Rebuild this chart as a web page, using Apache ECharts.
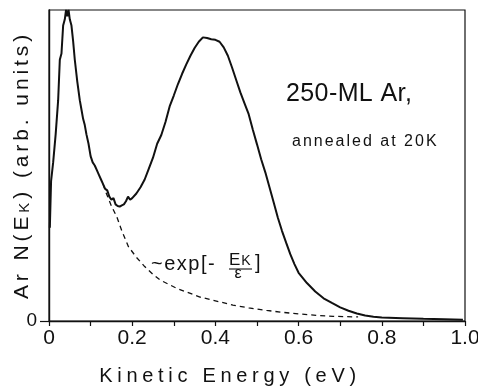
<!DOCTYPE html>
<html><head><meta charset="utf-8">
<script src="https://cdn.jsdelivr.net/npm/echarts@6/dist/echarts.min.js"></script>
<style>html,body{margin:0;padding:0;background:#fff}#c{width:478px;height:389px}</style>
</head><body><div id="c"></div>
<script>
// letter spacing helper: a family token "lsNN" means NN/10 px of letter spacing
(function(){
  var P = CanvasRenderingContext2D.prototype;
  var d = Object.getOwnPropertyDescriptor(P, 'font');
  if (d && d.set && ('letterSpacing' in P)) {
    Object.defineProperty(P, 'font', {
      configurable: true, enumerable: d.enumerable,
      get: function(){ return d.get.call(this); },
      set: function(v){ d.set.call(this, v); var m = /\bls(\d+)\b/.exec(v); this.letterSpacing = (m ? (+m[1] / 10) : 0) + 'px'; }
    });
  }
})();

const energy = [0.002,0.005,0.010,0.016,0.022,0.026,0.030,0.034,0.038,0.041,0.044,0.047,0.050,0.054,0.058,0.062,0.068,0.074,0.078,0.082,0.086,0.090,0.095,0.100,0.105,0.110,0.115,0.120,0.125,0.130,0.135,0.140,0.145,0.150,0.155,0.160,0.165,0.170,0.175,0.180,0.185,0.190,0.195,0.200,0.210,0.220,0.230,0.240,0.250,0.260,0.270,0.280,0.290,0.300,0.310,0.320,0.330,0.340,0.350,0.360,0.370,0.380,0.390,0.400,0.410,0.420,0.430,0.440,0.450,0.460,0.470,0.480,0.490,0.500,0.510,0.520,0.530,0.540,0.550,0.560,0.570,0.580,0.590,0.600,0.620,0.640,0.660,0.680,0.700,0.720,0.740,0.760,0.780,0.800,0.850,0.900,0.950,0.995];
const intensity = [0.30,0.45,0.51,0.60,0.71,0.84,0.86,0.95,0.97,1.00,0.98,1.00,0.97,0.95,0.90,0.84,0.77,0.71,0.68,0.65,0.63,0.60,0.57,0.53,0.51,0.50,0.485,0.47,0.455,0.44,0.425,0.42,0.40,0.39,0.395,0.375,0.37,0.368,0.372,0.375,0.385,0.40,0.39,0.395,0.41,0.43,0.455,0.49,0.525,0.57,0.598,0.64,0.69,0.725,0.762,0.795,0.825,0.853,0.878,0.898,0.912,0.91,0.906,0.904,0.898,0.88,0.853,0.815,0.775,0.735,0.70,0.665,0.615,0.568,0.52,0.478,0.43,0.382,0.333,0.29,0.252,0.215,0.183,0.155,0.122,0.095,0.073,0.058,0.044,0.033,0.024,0.018,0.014,0.011,0.009,0.007,0.006,0.004];
const expEnergy = [0.130,0.135,0.150,0.163,0.175,0.191,0.210,0.230,0.250,0.267,0.307,0.363,0.400,0.442,0.480,0.523,0.560,0.603,0.643,0.683,0.743];
const expIntensity = [0.44,0.42,0.37,0.335,0.29,0.239,0.205,0.175,0.15,0.132,0.105,0.077,0.065,0.051,0.042,0.034,0.028,0.0225,0.018,0.015,0.013];
const xTickValues = [0, 0.2, 0.4, 0.6, 0.8, 1.0];
const xTickLabels = ['0', '0.2', '0.4', '0.6', '0.8', '1.0'];
const yTickValues = [0];
const yTickLabels = ['0'];

const INK = '#111';
const LIB = '"Liberation Sans"';

const chart = echarts.init(document.getElementById('c'), null, {renderer: 'canvas'});
chart.setOption({
  animation: false,
  backgroundColor: '#fff',
  grid: {left: 49, right: 13, top: 10, bottom: 68, show: true, borderColor: INK, borderWidth: 1.2, containLabel: false, outerBoundsMode: 'none'},
  xAxis: {
    type: 'value', min: 0, max: 1, interval: 0.1,
    splitLine: {show: false},
    axisLine: {lineStyle: {color: INK, width: 1.4}},
    axisTick: {length: 5, lineStyle: {color: INK, width: 1.2}},
    axisLabel: {
      margin: 7, color: INK, fontFamily: LIB, fontSize: 21,
      formatter: function (v) {
        const i = xTickValues.findIndex(t => Math.abs(t - v) < 1e-6);
        return i >= 0 ? xTickLabels[i] : '';
      }
    },
    name: 'Kinetic Energy (eV)', nameLocation: 'middle', nameGap: 43,
    nameTextStyle: {color: INK, fontFamily: LIB + ', ls47', fontSize: 20, padding: [0, 54, 0, 0]}
  },
  yAxis: {
    type: 'value', min: 0, max: 1, interval: 1,
    splitLine: {show: false},
    axisLine: {show: true, lineStyle: {color: INK, width: 1.4}},
    axisTick: {show: true, length: 9, customValues: yTickValues, lineStyle: {color: INK, width: 1.2}},
    axisLabel: {margin: 12, color: INK, fontFamily: LIB, fontSize: 19, customValues: yTickValues,
      formatter: function (v) { const i = yTickValues.findIndex(t => Math.abs(t - v) < 1e-6); return i >= 0 ? yTickLabels[i] : ''; }}
  },
  series: [
    {type: 'line', data: energy.map((x, i) => [x, intensity[i]]), showSymbol: false, symbol: 'none',
      lineStyle: {color: INK, width: 2}, clip: true, z: 3},
    {type: 'line', data: expEnergy.map((x, i) => [x, expIntensity[i]]), showSymbol: false, symbol: 'none',
      lineStyle: {color: INK, width: 1.3, type: [5, 4]}, clip: true, z: 2}
  ],
  graphic: [
    {type: 'text', x: 22, y: 165, rotation: Math.PI / 2,
      style: {text: 'Ar N(E{s|K}) (arb. units)', fill: INK, font: '21px ' + LIB + ', ls39', align: 'center', verticalAlign: 'middle', textAlign: 'center', textVerticalAlign: 'middle',
        rich: {s: {font: '15px ' + LIB + ', ls39', fill: INK, padding: [5, 0, 0, 0]}}}},
    {type: 'text', x: 286, y: 94, style: {text: '250-ML Ar,', fill: INK, font: '25px ' + LIB + ', ls4', align: 'left', verticalAlign: 'middle', textAlign: 'left', textVerticalAlign: 'middle'}},
    {type: 'text', x: 292, y: 142, style: {text: 'annealed at 20K', fill: INK, font: '16px ' + LIB + ', ls20', align: 'left', verticalAlign: 'middle', textAlign: 'left', textVerticalAlign: 'middle'}},
    {type: 'text', x: 151, y: 264, style: {text: '~exp[-', fill: INK, font: '20px ' + LIB + ', ls15', align: 'left', verticalAlign: 'middle', textAlign: 'left', textVerticalAlign: 'middle'}},
    {type: 'text', x: 229, y: 260, style: {text: 'E{k|K}', fill: INK, font: '17px ' + LIB, align: 'left', verticalAlign: 'middle', textAlign: 'left', textVerticalAlign: 'middle',
      rich: {k: {font: '14px ' + LIB, fill: INK, padding: [3, 0, 0, 1]}}}},
    {type: 'line', shape: {x1: 229, y1: 269, x2: 252, y2: 269}, style: {stroke: INK, lineWidth: 1.1}},
    {type: 'text', x: 238, y: 274, style: {text: 'ε', fill: INK, font: '16px ' + LIB, align: 'center', verticalAlign: 'middle', textAlign: 'center', textVerticalAlign: 'middle'}},
    {type: 'text', x: 255, y: 263, style: {text: ']', fill: INK, font: '20px ' + LIB, align: 'left', verticalAlign: 'middle', textAlign: 'left', textVerticalAlign: 'middle'}}
  ]
});
</script>
</body></html>
